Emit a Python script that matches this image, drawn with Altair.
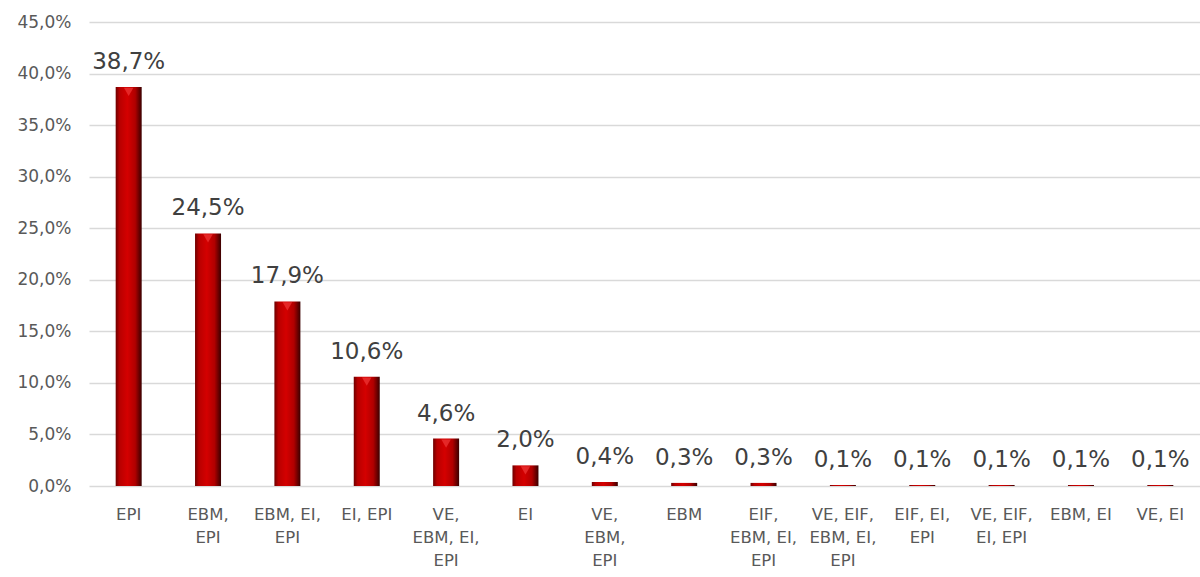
import altair as alt
import pandas as pd

# Combination groups (line breaks mark where the axis label wraps)
categories = [
    "EPI",
    "EBM,\nEPI",
    "EBM, EI,\nEPI",
    "EI, EPI",
    "VE,\nEBM, EI,\nEPI",
    "EI",
    "VE,\nEBM,\nEPI",
    "EBM",
    "EIF,\nEBM, EI,\nEPI",
    "VE, EIF,\nEBM, EI,\nEPI",
    "EIF, EI,\nEPI",
    "VE, EIF,\nEI, EPI",
    "EBM, EI",
    "VE, EI",
]
# Share of respondents, in percent
values = [38.7, 24.5, 17.9, 10.6, 4.6, 2.0, 0.4, 0.3, 0.3, 0.1, 0.1, 0.1, 0.1, 0.1]
y_ticks = [0, 5, 10, 15, 20, 25, 30, 35, 40, 45]

df = pd.DataFrame({"cat": categories, "value": values})

FONT = "DejaVu Sans"
GREY = "#595959"

x_enc = alt.X(
    "cat:N",
    sort=categories,
    title=None,
    scale=alt.Scale(paddingInner=0.0, paddingOuter=0.0),
    axis=alt.Axis(
        labelAngle=0,
        labelExpr="split(datum.label, '\\n')",
        labelLineHeight=23,
        labelPadding=20,
        labelFontSize=16.5,
        labelColor=GREY,
        labelFont=FONT,
        domain=False,
        ticks=False,
        grid=False,
    ),
)
y_enc = alt.Y(
    "value:Q",
    title=None,
    scale=alt.Scale(domain=[0, 45], nice=False),
    axis=alt.Axis(
        values=y_ticks,
        labelExpr="replace(format(datum.value, '.1f'), '.', ',') + '%'",
        labelFontSize=17,
        labelColor=GREY,
        labelFont=FONT,
        labelPadding=18,
        domain=False,
        ticks=False,
        gridColor="#d9d9d9",
        gridWidth=1.5,
    ),
)

bar_fill = alt.Gradient(
    gradient="linear",
    x1=0, x2=1, y1=0, y2=0,
    stops=[
        alt.GradientStop(color="#6e0000", offset=0.0),
        alt.GradientStop(color="#b80000", offset=0.15),
        alt.GradientStop(color="#d40000", offset=0.45),
        alt.GradientStop(color="#b00000", offset=0.75),
        alt.GradientStop(color="#3a0000", offset=1.0),
    ],
)

base = alt.Chart(df)

bars = base.mark_bar(size=26, color=bar_fill).encode(x=x_enc, y=y_enc)

# lighter bevel at the top of the taller bars
bevel = (
    base.transform_filter("datum.value >= 2")
    .mark_point(shape="triangle-down", filled=True, color="#ec3434", size=90, opacity=0.75, yOffset=5)
    .encode(x=x_enc, y=y_enc)
)

labels = (
    base.transform_calculate(lbl="replace(format(datum.value, '.1f'), '.', ',') + '%'")
    .mark_text(font=FONT, fontSize=23, color="#404040", baseline="alphabetic", dy=-18)
    .encode(x=x_enc, y=y_enc, text="lbl:N")
)

chart = (
    alt.layer(bars, bevel, labels)
    .properties(
        width=1111,
        height=464,
        autosize=alt.AutoSizeParams(type="none"),
        padding={"left": 89, "top": 22, "right": 0, "bottom": 91},
        background="white",
    )
    .configure_view(stroke=None)
)

chart.save("out.html", embed_options={"renderer": "svg", "actions": False})
